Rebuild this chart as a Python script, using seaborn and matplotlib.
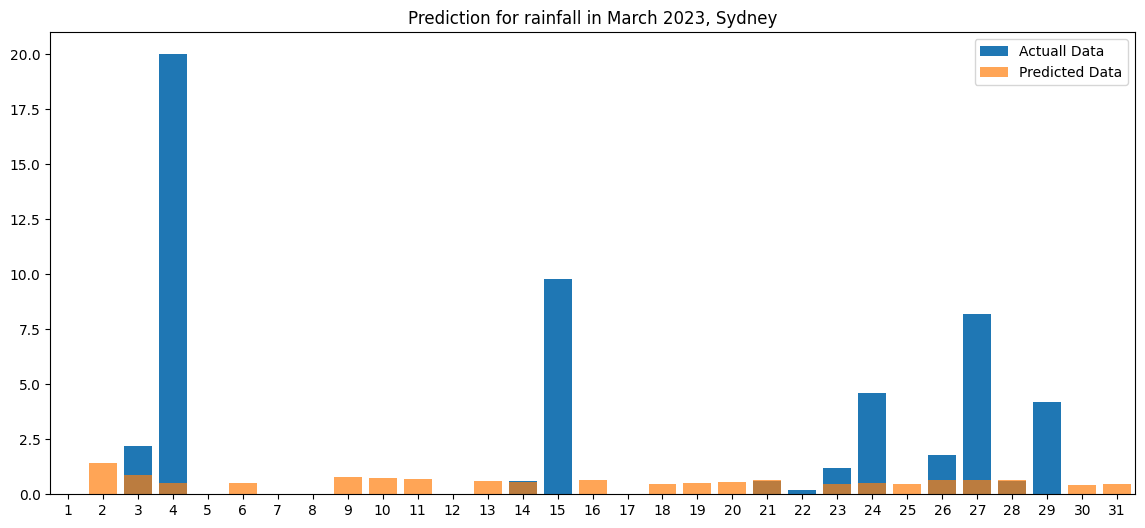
import pandas as pd
import numpy as np
import matplotlib
matplotlib.use('Agg')
import matplotlib.pyplot as plt
import seaborn as sns

# days of March 2023
days = list(range(1, 32))

# actual rainfall
actual = [0, 0, 2.2, 20.0, 0, 0, 0, 0, 0, 0,
          0, 0, 0, 0.59, 9.8, 0, 0, 0, 0, 0,
          0.59, 0.18, 1.18, 4.6, 0, 1.77, 8.2, 0.59, 4.2, 0,
          0]

# predicted rainfall
predicted = [0, 1.41, 0.86, 0.5, 0, 0.5, 0, 0, 0.77, 0.73,
             0.68, 0, 0.59, 0.55, 0, 0.64, 0, 0.45, 0.5, 0.55,
             0.64, 0, 0.45, 0.5, 0.45, 0.64, 0.64, 0.64, 0, 0.41,
             0.45]

df = pd.DataFrame({'Day': days, 'Actual': actual, 'Predicted': predicted})

fig, ax = plt.subplots(figsize=(11.45, 5.28), dpi=100)

#actual first, then predicted on top with some transparency
sns.barplot(x='Day', y='Actual', data=df, color='#1f77b4', saturation=1,
            label='Actuall Data', ax=ax)
sns.barplot(x='Day', y='Predicted', data=df, color='#ff7f0e', saturation=1,
            alpha=0.7, label='Predicted Data', ax=ax)

ax.set_xlim(-0.5, 30.5)
ax.set_ylim(0, 21)
ax.set_xlabel('')
ax.set_ylabel('')
ax.set_title('Prediction for rainfall in March 2023, Sydney')
ax.legend(loc='upper right')

plt.subplots_adjust(left=0.044, right=0.991, top=0.939, bottom=0.064)
plt.savefig('out.png')
